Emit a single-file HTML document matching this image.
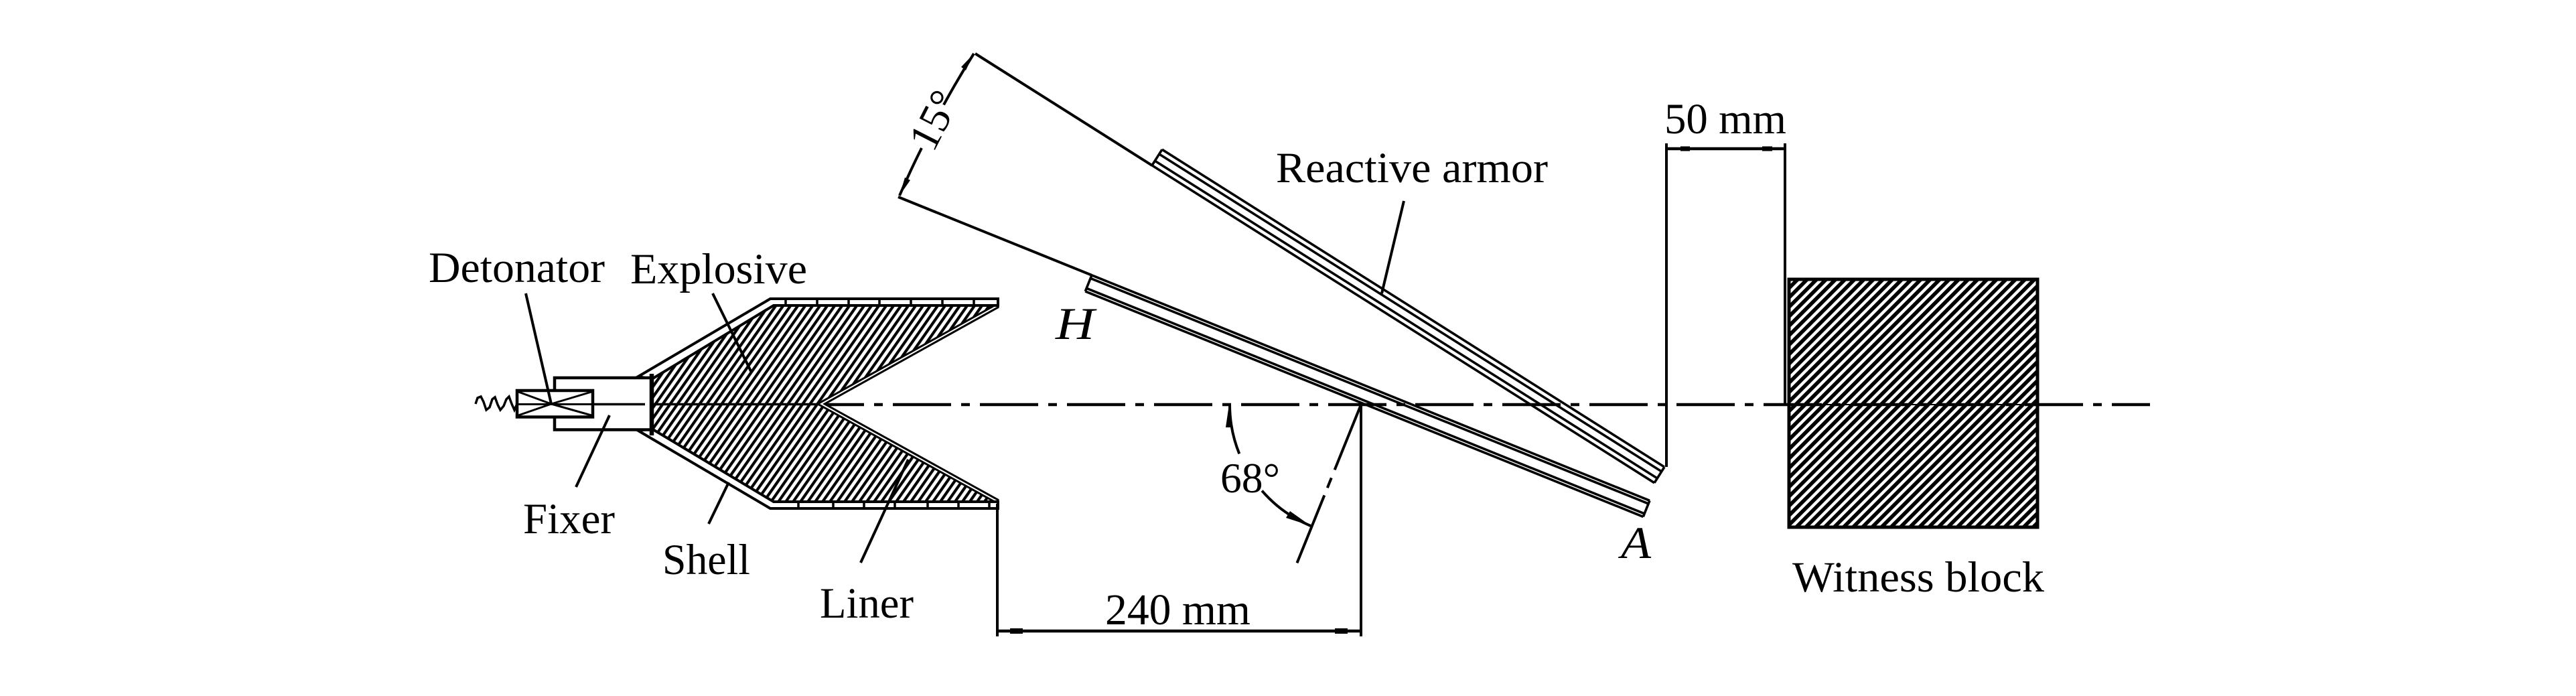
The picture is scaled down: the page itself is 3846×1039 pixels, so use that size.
<!DOCTYPE html>
<html>
<head>
<meta charset="utf-8">
<style>
html,body{margin:0;padding:0;background:#fff;width:3846px;height:1039px;overflow:hidden}
svg{display:block}
text{font-family:"Liberation Serif","DejaVu Serif",serif;fill:#000}
</style>
</head>
<body>
<svg width="3846" height="1039" viewBox="0 0 3846 1039" xmlns="http://www.w3.org/2000/svg">
<defs>
<pattern id="hx" patternUnits="userSpaceOnUse" width="9" height="9" patternTransform="rotate(35)">
<rect x="2.5" y="0" width="4.2" height="9" fill="#000"/>
</pattern>
<pattern id="hw" patternUnits="userSpaceOnUse" width="10" height="10" patternTransform="rotate(45)">
<rect x="0" y="0" width="5.6" height="10" fill="#000"/>
</pattern>
</defs>
<rect x="0" y="0" width="3846" height="1039" fill="#fff"/>

<!-- ===== Centerline ===== -->
<line x1="772" y1="603.5" x2="1228" y2="603.5" stroke="#000" stroke-width="3.5"/>
<line x1="1228" y1="604" x2="3210" y2="604" stroke="#000" stroke-width="4.5" stroke-dasharray="87 15 13 15" stroke-dashoffset="25"/>

<!-- ===== Charge ===== -->
<polygon points="973,566 1155,456 1490,456 1226,603 1490,749 1155,749 973,640" fill="url(#hx)"/>
<polyline points="1490,456 1226,603 1490,749" fill="none" stroke="#000" stroke-width="8"/>
<polyline points="1490,456 1226,603 1490,749" fill="none" stroke="#fff" stroke-width="2"/>
<polygon points="953,562 1150,446 1490,446 1490,456 1155,456 973,566" fill="#fff" stroke="#000" stroke-width="4"/>
<polygon points="953,643 1150,759 1490,759 1490,749 1155,749 973,640" fill="#fff" stroke="#000" stroke-width="4"/>
<g stroke="#000" stroke-width="3.5">
<line x1="1173" y1="446" x2="1173" y2="456"/>
<line x1="1220" y1="446" x2="1220" y2="456"/>
<line x1="1267" y1="446" x2="1267" y2="456"/>
<line x1="1313" y1="446" x2="1313" y2="456"/>
<line x1="1360" y1="446" x2="1360" y2="456"/>
<line x1="1407" y1="446" x2="1407" y2="456"/>
<line x1="1454" y1="446" x2="1454" y2="456"/>
<line x1="1192" y1="749" x2="1192" y2="759"/>
<line x1="1244" y1="749" x2="1244" y2="759"/>
<line x1="1290" y1="749" x2="1290" y2="759"/>
<line x1="1336" y1="749" x2="1336" y2="759"/>
<line x1="1385" y1="749" x2="1385" y2="759"/>
<line x1="1431" y1="749" x2="1431" y2="759"/>
<line x1="1477" y1="749" x2="1477" y2="759"/>
</g>
<rect x="828" y="564" width="145" height="77.5" fill="#fff" stroke="#000" stroke-width="4.5"/>
<line x1="973" y1="558" x2="973" y2="650" stroke="#000" stroke-width="6.5"/>
<line x1="885" y1="603.5" x2="963" y2="603.5" stroke="#000" stroke-width="3.5"/>
<rect x="772" y="583" width="113" height="39.5" fill="#fff" stroke="#000" stroke-width="4.5"/>
<g stroke="#000" stroke-width="3">
<line x1="774" y1="585" x2="823" y2="603"/>
<line x1="774" y1="620" x2="823" y2="603"/>
<line x1="823" y1="603" x2="883" y2="585"/>
<line x1="823" y1="603" x2="883" y2="620"/>
<line x1="772" y1="603.5" x2="885" y2="603.5"/>
</g>
<polyline points="710,603 713,594 718,592 722,600 726,612 731,608 735,596 739,593 743,604 747,612 752,606 756,596 760,592 764,603 768,612 772,603" fill="none" stroke="#000" stroke-width="3.5"/>

<!-- ===== Leaders (left) ===== -->
<g stroke="#000" stroke-width="4" fill="none">
<line x1="785" y1="438" x2="823" y2="603"/>
<line x1="1064" y1="438" x2="1122" y2="556"/>
<line x1="860" y1="727" x2="910" y2="620"/>
<line x1="1058" y1="782" x2="1088" y2="720"/>
<line x1="1285" y1="840" x2="1356" y2="686"/>
</g>

<!-- ===== Cone lines & plates ===== -->
<g stroke="#000" stroke-width="4" fill="none">
<line x1="1456" y1="80" x2="1720" y2="246.9"/>
<line x1="1341" y1="294" x2="1630" y2="410.8"/>
<line x1="2096" y1="300" x2="2063" y2="438"/>
</g>
<g stroke="#000" stroke-width="3.6" fill="none">
<line x1="1720" y1="246.9" x2="2470" y2="720.8"/>
<line x1="1724.3" y1="240.1" x2="2474.3" y2="714.0"/>
<line x1="1730.7" y1="230.0" x2="2480.7" y2="703.9"/>
<line x1="1735.0" y1="223.2" x2="2485.0" y2="697.1"/>
<line x1="1720" y1="246.9" x2="1735" y2="223.2"/>
<line x1="2470" y1="720.8" x2="2485" y2="697.1"/>
<line x1="1630" y1="410.8" x2="2463" y2="747.3"/>
<line x1="1628.1" y1="415.4" x2="2461.1" y2="751.9"/>
<line x1="1622.1" y1="430.3" x2="2455.1" y2="766.8"/>
<line x1="1620.3" y1="434.9" x2="2453.3" y2="771.4"/>
<line x1="1630" y1="410.8" x2="1620.3" y2="434.9"/>
<line x1="2463" y1="747.3" x2="2453.3" y2="771.4"/>
</g>

<!-- ===== 15 deg dimension ===== -->
<g stroke="#000" stroke-width="4" fill="none">
<path d="M1343,292 A1353,1353 0 0 1 1376,221"/>
<path d="M1409,156.4 A1353,1353 0 0 1 1454,80"/>
</g>
<polygon points="1343,292 1351,265 1359,269" fill="#000"/>
<polygon points="1454,80 1442,105 1435,100" fill="#000"/>
<text transform="translate(1394,179) rotate(-63)" x="0" y="22" font-size="64" text-anchor="middle">15°</text>

<!-- ===== 68 deg dimension ===== -->
<g stroke="#000" stroke-width="4" fill="none">
<path d="M1836,604 A196,196 0 0 0 1850.3,677.4"/>
<path d="M1884.1,732.6 A196,196 0 0 0 1957,785.1"/>
<line x1="2032" y1="604" x2="1936.5" y2="840.4" stroke-dasharray="105 13 16 12 130"/>
</g>
<polygon points="1835,604 1830,638 1839,638" fill="#000"/>
<polygon points="1957,785 1920,773 1926,763" fill="#000"/>
<text x="1822" y="735" font-size="64" textLength="89" lengthAdjust="spacingAndGlyphs">68°</text>

<!-- ===== 240 mm dimension ===== -->
<g stroke="#000" stroke-width="4">
<line x1="1489" y1="752" x2="1489" y2="950"/>
<line x1="2032" y1="604" x2="2032" y2="950"/>
<line x1="1489" y1="942" x2="2032" y2="942" stroke-width="4.5"/>
</g>
<rect x="1508" y="938" width="19" height="8" fill="#000"/>
<rect x="1993" y="938" width="19" height="8" fill="#000"/>
<text x="1650" y="932" font-size="66" textLength="217" lengthAdjust="spacingAndGlyphs">240 mm</text>

<!-- ===== 50 mm dimension ===== -->
<g stroke="#000" stroke-width="4">
<line x1="2488" y1="214" x2="2488" y2="697"/>
<line x1="2665" y1="214" x2="2665" y2="604"/>
<line x1="2488" y1="222" x2="2665" y2="222" stroke-width="4.5"/>
</g>
<rect x="2509" y="218.5" width="14" height="7" fill="#000"/>
<rect x="2631" y="218.5" width="15" height="7" fill="#000"/>
<text x="2485" y="199" font-size="65" textLength="182" lengthAdjust="spacingAndGlyphs">50 mm</text>

<!-- ===== Witness block ===== -->
<rect x="2671" y="417" width="371" height="370" fill="url(#hw)" stroke="#000" stroke-width="5"/>
<line x1="2671" y1="604" x2="3042" y2="604" stroke="#000" stroke-width="2"/>

<!-- ===== Labels ===== -->
<text x="640" y="421" font-size="65" textLength="263" lengthAdjust="spacingAndGlyphs">Detonator</text>
<text x="941" y="423" font-size="65" textLength="264" lengthAdjust="spacingAndGlyphs">Explosive</text>
<text x="781" y="796" font-size="65" textLength="137" lengthAdjust="spacingAndGlyphs">Fixer</text>
<text x="989" y="857" font-size="65" textLength="131" lengthAdjust="spacingAndGlyphs">Shell</text>
<text x="1224" y="922" font-size="65" textLength="140" lengthAdjust="spacingAndGlyphs">Liner</text>
<text x="1905" y="272" font-size="65" textLength="406" lengthAdjust="spacingAndGlyphs">Reactive armor</text>
<text x="1576" y="506" font-size="68" font-style="italic" textLength="58" lengthAdjust="spacingAndGlyphs">H</text>
<text x="2420" y="833" font-size="68" font-style="italic" textLength="45" lengthAdjust="spacingAndGlyphs">A</text>
<text x="2676" y="883" font-size="65" textLength="376" lengthAdjust="spacingAndGlyphs">Witness block</text>
</svg>
</body>
</html>
